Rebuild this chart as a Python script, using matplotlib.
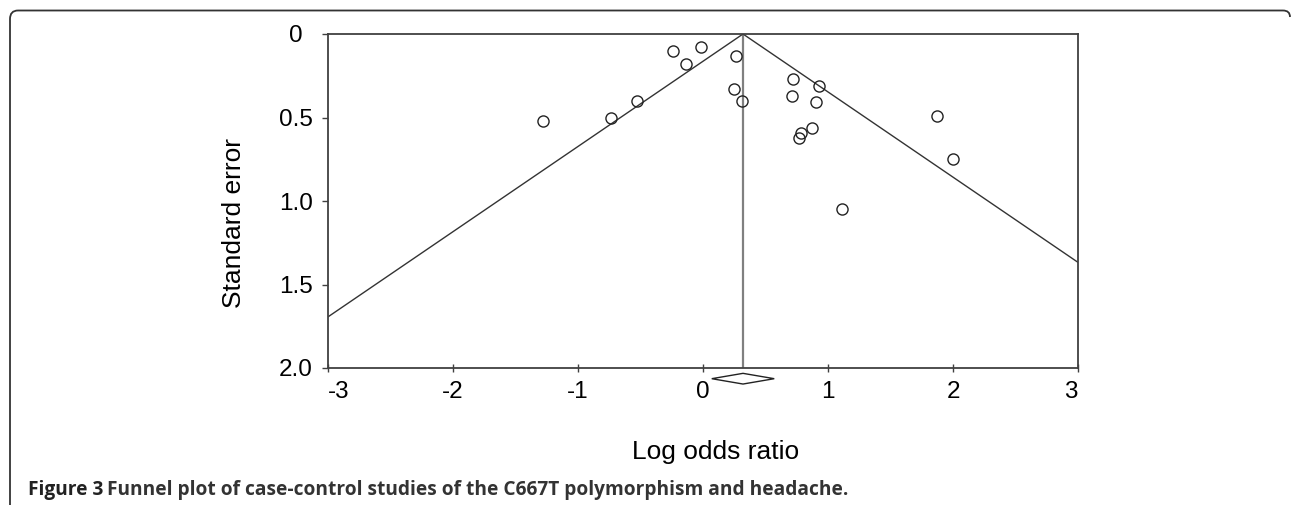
import matplotlib.pyplot as plt
import matplotlib.patches as mpatches
from matplotlib.path import Path
import numpy as np

# study estimates
log_or = [-1.28, -0.74, -0.53, -0.24, -0.02, -0.14, 0.26, 0.25, 0.31,
          0.72, 0.71, 0.93, 0.90, 0.87, 0.78, 0.77, 1.87, 2.00, 1.11]
std_err = [0.52, 0.50, 0.40, 0.10, 0.08, 0.18, 0.13, 0.33, 0.40,
           0.27, 0.37, 0.31, 0.41, 0.56, 0.59, 0.62, 0.49, 0.75, 1.05]
pooled = 0.32
ci_low, ci_high = 0.07, 0.57

xticks = [-3, -2, -1, 0, 1, 2, 3]
yticks = [0, 0.5, 1.0, 1.5, 2.0]
yticklabels = ["0", "0.5", "1.0", "1.5", "2.0"]

W, H = 1292, 505
plt.rcParams['font.family'] = ['Liberation Sans', 'DejaVu Sans']
fig = plt.figure(figsize=(W / 100, H / 100), dpi=100)
ax = fig.add_axes([328 / W, 1 - 368 / H, 750 / W, 334 / H])

# funnel limits
se_line = np.array([0, 2.0])
ax.plot(pooled - 1.96 * se_line, se_line, color="#333333", lw=1.0)
ax.plot(pooled + 1.96 * se_line, se_line, color="#333333", lw=1.0)
ax.axvline(pooled, color="#808080", lw=1.6, zorder=1)

ax.plot(log_or, std_err, "o", ms=8, mfc="none", mec="#222222", mew=1.0, zorder=5)

# pooled diamond under the axis
ax.fill([ci_low, pooled, ci_high, pooled], [2.064, 2.032, 2.064, 2.096],
        facecolor="white", edgecolor="#222222", lw=1.0, clip_on=False, zorder=6)

ax.set_xlim(-3, 3)
ax.set_ylim(2.0, 0)
ax.set_xticks(xticks)
ax.set_xticklabels([str(t) for t in xticks])
ax.set_yticks(yticks)
ax.set_yticklabels(yticklabels, ha="center")
ax.tick_params(axis="x", direction="inout", length=6, width=1, color="#404040",
               labelsize=17.5, pad=6)
ax.tick_params(axis="y", direction="out", length=4, width=1, color="#404040",
               labelsize=17.5, pad=19)
xlabs = ax.get_xticklabels()
xlabs[0].set_ha("left")
xlabs[-1].set_ha("right")
for s in ax.spines.values():
    s.set_color("#404040")
    s.set_linewidth(1.3)

ax.set_ylabel("Standard error", fontsize=19)
ax.yaxis.set_label_coords(-0.109, 0.434)
ax.set_xlabel("Log odds ratio", fontsize=19)
ax.xaxis.set_label_coords(0.517, -0.216)

# rounded frame of the figure panel
pts = [(1290, 17), (1290, 10.5), (1283, 10.5), (18, 10.5), (10, 10.5), (10, 19), (10, 505)]
codes = [Path.MOVETO, Path.CURVE3, Path.CURVE3, Path.LINETO, Path.CURVE3, Path.CURVE3, Path.LINETO]
frame = Path([(x / W, 1 - y / H) for x, y in pts], codes)
fig.patches.append(mpatches.PathPatch(frame, transform=fig.transFigure, fill=False,
                                      edgecolor="#333333", lw=1.3))

cap_font = ["Open Sans", "DejaVu Sans"]
t1 = fig.text(28 / W, 1 - 490 / H, "Figure 3", fontsize=13.8, fontweight="bold",
              family=cap_font, va="center", color="#222222")
renderer = fig.canvas.get_renderer()
x_end = t1.get_window_extent(renderer).x1
fig.text((x_end + 4) / W, 1 - 490 / H,
         "Funnel plot of case-control studies of the C667T polymorphism and headache.",
         fontsize=13.8, fontweight="bold", family=cap_font,
         va="center", color="#333333")

fig.savefig("out.png", dpi=100)
